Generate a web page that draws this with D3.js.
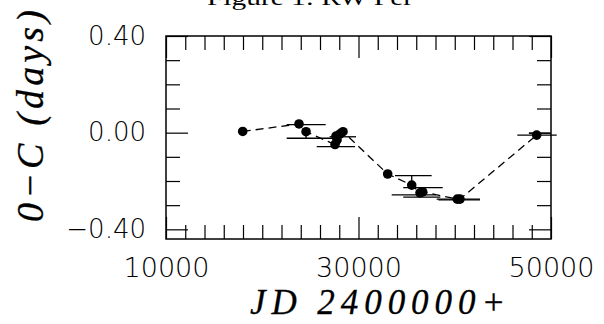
<!DOCTYPE html>
<html>
<head>
<meta charset="utf-8">
<script src="https://cdn.jsdelivr.net/npm/d3@7"></script>
<style>
  html, body { margin: 0; padding: 0; background: #fff; }
  svg { display: block; }
  .tick text { font-family: "DejaVu Sans", sans-serif; font-weight: 200; fill: #000; }
  .serif { font-family: "Liberation Serif", "Times New Roman", serif; }
</style>
</head>
<body>
<script>
// O-C points (JD - 2400000, days)
var ptJD = [17970, 23820, 24550, 27560, 27660, 27770, 28080, 28390, 33030, 35530, 36390, 36670, 40260, 40540, 48510];
var ptOC = [0.005, 0.036, 0.004, -0.049, -0.014, -0.030, -0.005, 0.004, -0.171, -0.217, -0.249, -0.245, -0.275, -0.275, -0.010];

// horizontal range bars
var barFrom = [22540, 22540, 25660, 27000, 33790, 34650, 33450, 34650, 38120, 38300, 46500, 47700];
var barTo   = [26590, 27600, 29640, 29740, 37600, 38750, 38050, 38500, 42620, 42620, 50590, 49900];
var barOC   = [0.033, -0.023, -0.058, -0.017, -0.178, -0.227, -0.257, -0.267, -0.275, -0.278, -0.010, -0.002];

// vertical bars
var vJD   = [24550, 35530];
var vFrom = [-0.023, -0.217];
var vTo   = [0.004, -0.178];

var xMajor = [10000, 30000, 50000];
var xMinor = d3.range(12000, 50000, 2000).filter(function (d) { return d !== 30000; });
var yMajor = [0.4, 0.0, -0.4];
var yMinor = [0.3, 0.2, 0.1, -0.1, -0.2, -0.3];

var svgWidth = 604;
var svgHeight = 324;
var margin = { top: 36, right: 53, bottom: 85, left: 166 };
var width = svgWidth - margin.left - margin.right;
var height = svgHeight - margin.top - margin.bottom;

var svg = d3.select("body")
  .append("svg")
  .attr("width", svgWidth)
  .attr("height", svgHeight);

var g = svg.append("g")
  .attr("transform", `translate(${margin.left}, ${margin.top})`);

var xScale = d3.scaleLinear().domain([10000, 50000]).range([0, width]);
var yScale = d3.scaleLinear().domain([-0.44, 0.40]).range([height, 0]);

// frame
g.append("rect")
  .attr("width", width)
  .attr("height", height)
  .attr("fill", "none")
  .attr("stroke", "#000")
  .attr("stroke-width", 1.5);

// axes, ticks pointing inward on all four sides
function addAxis(axis, tf) {
  var a = g.append("g").attr("transform", tf).call(axis);
  a.select(".domain").remove();
  a.selectAll(".tick line").attr("stroke", "#000").attr("stroke-width", 1.2);
  return a;
}
var minorLen = 14, majorLen = 22;

addAxis(d3.axisBottom(xScale).tickValues(xMinor).tickSize(-minorLen).tickFormat(""), `translate(0, ${height})`);
var xa = addAxis(d3.axisBottom(xScale).tickValues(xMajor).tickSize(-majorLen).tickPadding(19).tickFormat(d3.format("d")), `translate(0, ${height})`);
xa.selectAll(".tick text").attr("font-size", 27);
addAxis(d3.axisTop(xScale).tickValues(xMinor).tickSize(-minorLen).tickFormat(""), "translate(0, 0)");
addAxis(d3.axisTop(xScale).tickValues(xMajor).tickSize(-majorLen).tickFormat(""), "translate(0, 0)");

addAxis(d3.axisLeft(yScale).tickValues(yMinor).tickSize(-minorLen).tickFormat(""), "translate(0, 0)");
var ya = addAxis(d3.axisLeft(yScale).tickValues(yMajor).tickSize(-majorLen).tickPadding(20)
  .tickFormat(function (d) { return d3.format(".2f")(d).replace("-", "\u2212"); }), "translate(0, 0)");
ya.selectAll(".tick text").attr("font-size", 26);
addAxis(d3.axisRight(yScale).tickValues(yMinor).tickSize(-minorLen).tickFormat(""), `translate(${width}, 0)`);
addAxis(d3.axisRight(yScale).tickValues(yMajor).tickSize(-majorLen).tickFormat(""), `translate(${width}, 0)`);

// dashed connecting line
var pts = ptJD.map(function (d, i) { return [d, ptOC[i]]; });
var line = d3.line()
  .x(function (d) { return xScale(d[0]); })
  .y(function (d) { return yScale(d[1]); });
g.append("path")
  .datum(pts)
  .attr("fill", "none")
  .attr("stroke", "#000")
  .attr("stroke-width", 1.3)
  .attr("stroke-dasharray", "8,5")
  .attr("d", line);

// range bars
g.selectAll(".hbar")
  .data(barOC)
  .enter()
  .append("line")
  .attr("class", "hbar")
  .attr("x1", function (d, i) { return xScale(barFrom[i]); })
  .attr("x2", function (d, i) { return xScale(barTo[i]); })
  .attr("y1", function (d) { return yScale(d); })
  .attr("y2", function (d) { return yScale(d); })
  .attr("stroke", "#000")
  .attr("stroke-width", 1.3);

g.selectAll(".vbar")
  .data(vJD)
  .enter()
  .append("line")
  .attr("class", "vbar")
  .attr("x1", function (d) { return xScale(d); })
  .attr("x2", function (d) { return xScale(d); })
  .attr("y1", function (d, i) { return yScale(vFrom[i]); })
  .attr("y2", function (d, i) { return yScale(vTo[i]); })
  .attr("stroke", "#000")
  .attr("stroke-width", 1.3);

// points
g.selectAll(".pt")
  .data(pts)
  .enter()
  .append("circle")
  .attr("class", "pt")
  .attr("cx", function (d) { return xScale(d[0]); })
  .attr("cy", function (d) { return yScale(d[1]); })
  .attr("r", 4.8)
  .attr("fill", "#000");

// titles
svg.append("text")
  .attr("class", "serif")
  .attr("x", 207)
  .attr("y", 5)
  .attr("textLength", 206)
  .attr("lengthAdjust", "spacingAndGlyphs")
  .attr("font-size", 22)
  .text("Figure 1: RW Per");

svg.append("text")
  .attr("class", "serif")
  .attr("x", 250)
  .attr("y", 314)
  .attr("textLength", 255)
  .attr("lengthAdjust", "spacing")
  .attr("font-style", "italic")
  .attr("font-size", 35)
  .attr("stroke", "#000")
  .attr("stroke-width", 0.3)
  .text("JD  2400000+");

svg.append("text")
  .attr("class", "serif")
  .attr("transform", "translate(43, 222) rotate(-90)")
  .attr("textLength", 212)
  .attr("lengthAdjust", "spacing")
  .attr("font-style", "italic")
  .attr("font-size", 38)
  .attr("stroke", "#000")
  .attr("stroke-width", 0.3)
  .text("0\u2212C  (days)");
</script>
</body>
</html>
